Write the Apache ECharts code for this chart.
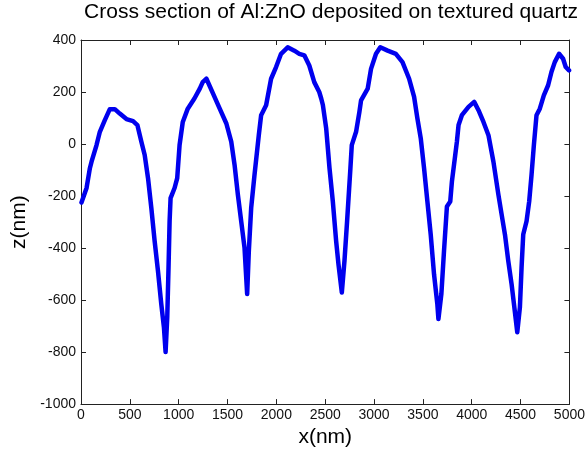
<!DOCTYPE html>
<html>
<head>
<meta charset="utf-8">
<script src="https://cdn.jsdelivr.net/npm/echarts@6/dist/echarts.min.js"></script>
<style>
  html, body { margin: 0; padding: 0; background: #ffffff; }
  #chart { width: 588px; height: 453px; }
</style>
</head>
<body>
<div id="chart"></div>
<script>
// Surface profile of the film along the scan line
const xNm = [5, 57, 91, 108, 159, 193, 244, 295, 346, 397, 465, 533, 577, 618, 652, 686, 720, 754, 788, 822,
  849, 866, 883, 896, 907, 917, 958, 985, 1009, 1042, 1093, 1161, 1216, 1246, 1284, 1352, 1420, 1488, 1538, 1572,
  1606, 1640, 1674, 1701, 1718, 1742, 1776, 1820, 1844, 1895, 1946, 1997, 2048, 2116, 2184, 2235, 2286, 2337, 2388, 2439,
  2459, 2476, 2510, 2544, 2578, 2612, 2636, 2670, 2697, 2724, 2758, 2772, 2816, 2850, 2867, 2935, 2969, 3020, 3064, 3139,
  3223, 3291, 3359, 3410, 3444, 3478, 3512, 3546, 3580, 3614, 3648, 3659, 3689, 3716, 3746, 3780, 3797, 3831, 3848, 3865,
  3899, 3967, 4025, 4069, 4120, 4171, 4222, 4273, 4306, 4340, 4374, 4408, 4436, 4466, 4493, 4510, 4527, 4561, 4588, 4612,
  4636, 4663, 4697, 4738, 4782, 4816, 4850, 4894, 4935, 4962, 4996];
const zNm = [-225, -169, -93, -68, -4, 47, 92, 134, 134, 117, 96, 88, 73, 9, -42, -131, -246, -374, -488, -616,
  -705, -800, -666, -475, -297, -208, -169, -131, -4, 85, 136, 175, 213, 238, 251, 194, 136, 79, 9, -80,
  -195, -297, -399, -577, -412, -246, -119, 34, 111, 149, 251, 296, 347, 372, 359, 347, 341, 302, 238, 200,
  175, 150, 60, -93, -221, -374, -463, -571, -450, -297, -93, -4, 47, 124, 168, 213, 289, 347, 372, 359,
  347, 315, 251, 181, 98, 22, -93, -221, -348, -501, -616, -673, -577, -412, -240, -221, -144, -42, 9, 73,
  111, 143, 162, 130, 85, 34, -68, -195, -271, -348, -450, -539, -628, -724, -628, -475, -348, -297, -221, -119,
  -4, 111, 136, 187, 226, 277, 315, 347, 328, 296, 283];

const xRange = [0, 5000, 500];
const zRange = [-1000, 400, 200];
const titleText = 'Cross section of Al:ZnO deposited on textured quartz';
const xName = 'x(nm)';
const zName = 'z(nm)';

const points = xNm.map((x, i) => [x, zNm[i]]);

const font = 'Arial, "Liberation Sans", Helvetica, sans-serif';
const axisColor = '#222222';
const plain = v => String(v);

function boxAxis(range, pos, withLabels, extra) {
  return Object.assign({
    type: 'value',
    position: pos,
    min: range[0],
    max: range[1],
    interval: range[2],
    axisLine: { show: true, onZero: false, lineStyle: { color: axisColor, width: 1 } },
    axisTick: { show: true, inside: true, length: 5, lineStyle: { color: axisColor } },
    axisLabel: { show: withLabels, color: '#111111', fontSize: 14, fontFamily: font, formatter: plain },
    splitLine: { show: false }
  }, extra || {});
}

const chart = echarts.init(document.getElementById('chart'), null, { renderer: 'canvas' });
chart.setOption({
  backgroundColor: '#ffffff',
  animation: false,
  title: {
    text: titleText,
    left: 326,
    textAlign: 'center',
    top: -3,
    textStyle: { fontFamily: font, fontSize: 21, fontWeight: 'normal', color: '#000000' }
  },
  grid: { left: 81, right: 16, top: 40, bottom: 47.5, containLabel: false },
  xAxis: [
    boxAxis(xRange, 'bottom', true, {
      name: xName, nameLocation: 'middle', nameGap: 22,
      nameTextStyle: { fontFamily: font, fontSize: 21, color: '#000000' },
      axisLabel: { show: true, color: '#111111', fontSize: 14, fontFamily: font, margin: 4, formatter: plain }
    }),
    boxAxis(xRange, 'top', false)
  ],
  yAxis: [
    boxAxis(zRange, 'left', true, {
      name: zName, nameLocation: 'middle', nameGap: 44, nameRotate: 90,
      nameTextStyle: { fontFamily: font, fontSize: 21, color: '#000000' },
      axisLabel: { show: true, color: '#111111', fontSize: 14, fontFamily: font, margin: 5, formatter: plain }
    }),
    boxAxis(zRange, 'right', false)
  ],
  series: [{
    type: 'line',
    xAxisIndex: 0,
    yAxisIndex: 0,
    data: points,
    showSymbol: false,
    smooth: false,
    lineStyle: { color: '#0000ee', width: 4.5, join: 'round', cap: 'round' }
  }]
});
</script>
</body>
</html>
